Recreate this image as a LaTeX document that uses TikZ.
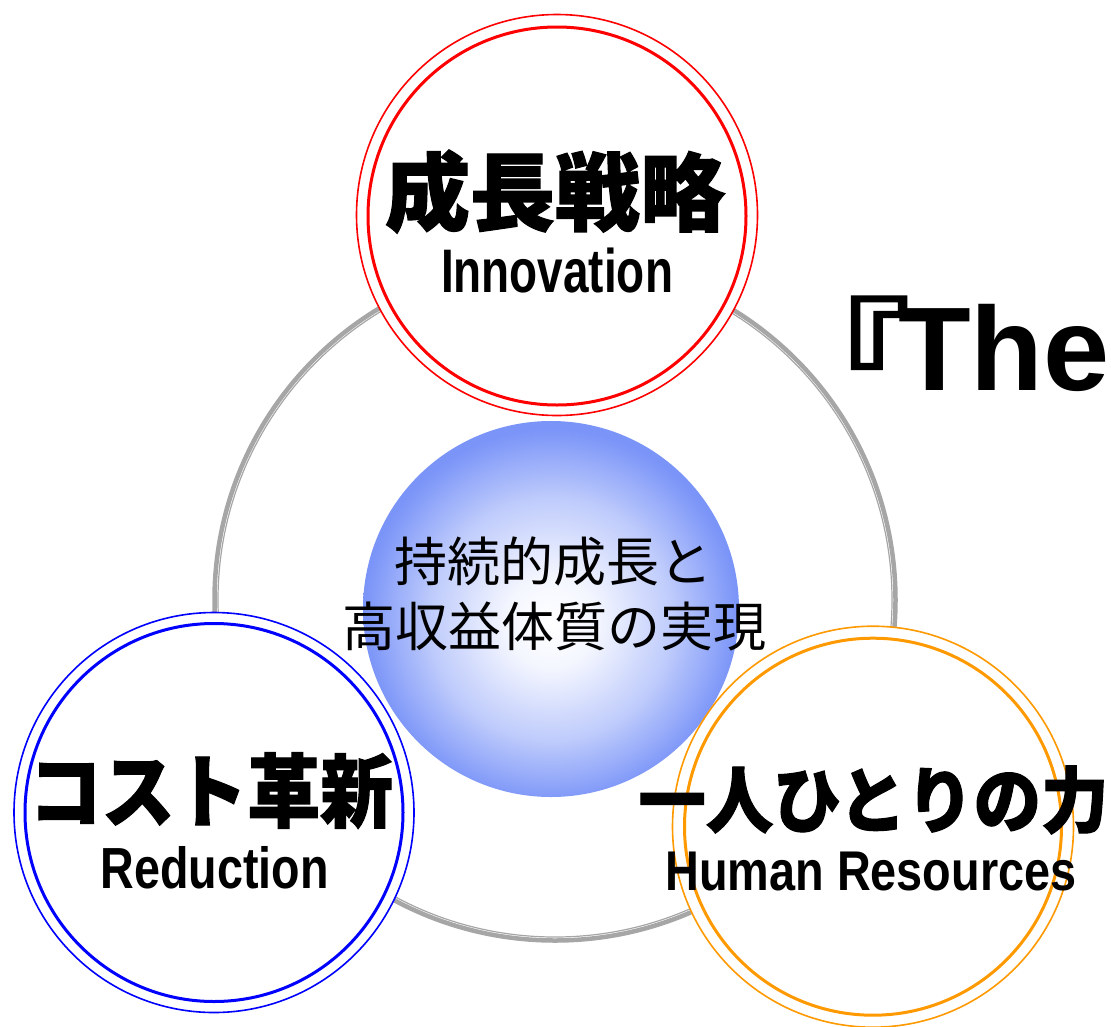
\documentclass[tikz,border=0pt]{standalone}
\usepackage{fontspec}
\usepackage{graphicx}
\newfontfamily\cjk{Noto Sans CJK JP}
\newfontfamily\cjkh{Noto Sans CJK JP}[BoldFeatures={FakeBold=1.5}]
\newfontfamily\lat{Liberation Sans}
\definecolor{ringgray}{RGB}{166,166,166}
\definecolor{sph}{RGB}{122,148,248}
\definecolor{orng}{RGB}{255,153,0}
\pgfdeclareradialshading{sphereshade}{\pgfpoint{0bp}{-2bp}}{color(0bp)=(white); color(6bp)=(white!92!sph); color(16bp)=(white!52!sph); color(25bp)=(sph); color(50bp)=(sph)}
\begin{document}
\begin{tikzpicture}[x=1pt,y=-1pt,
  jt/.style={font=\cjkh\bfseries\fontsize{#1}{#1}\selectfont, inner sep=0pt, anchor=base},
  lt/.style={font=\lat\bfseries\fontsize{#1}{#1}\selectfont, inner sep=0pt, anchor=base},
  ct/.style={font=\cjk\fontsize{#1}{#1}\selectfont, inner sep=0pt, anchor=base},
  outerring/.style={draw=#1, line width=1.6pt, fill=white},
  innerring/.style={draw=#1, line width=3pt}]
\useasboundingbox (0,0) rectangle (1111,1026);
\clip (0,0) rectangle (1111,1026);
% gray ring
\draw[ringgray, line width=4.5pt] (555,600) circle[radius=340.5pt];
\draw[ringgray, line width=1.2pt] (555,600) circle[radius=337pt];
% central sphere
\shade[shading=sphereshade] (551,609) circle[radius=188pt];
\node[ct=53] (c1) at (553,581.5) {持続的成長と};
\node[ct=53] (c2) at (554,646.5) {高収益体質の実現};
% red
\filldraw[outerring=red] (557,215) circle[radius=200.5pt];
\draw[innerring=red] (557,216) circle[radius=189pt];
\node[jt=85] (t1) at (555,224) {成長戦略};
\node[lt=61.5] (t2) at (557,292) {\resizebox{232pt}{\height}{Innovation}};
% blue
\filldraw[outerring=blue] (214,812.5) circle[radius=200pt];
\draw[innerring=blue] (214,812.5) circle[radius=189pt];
\node[jt=80] (b1) at (211,821) {\resizebox{364pt}{\height}{コスト革新}};
\node[lt=58] (b2) at (214.5,888) {\resizebox{228pt}{\height}{Reduction}};
% orange
\filldraw[outerring=orng] (873,826.7) circle[radius=200.5pt];
\draw[innerring=orng] (873,826.7) circle[radius=188.5pt];
\node[jt=72] (o1) at (873.5,827) {\resizebox{470pt}{\height}{一人ひとりの力}};
\node[lt=56] (o2) at (871,890) {\resizebox{411pt}{\height}{Human Resources}};
% title fragment
\node[lt=119, anchor=base west] (the) at (898,390) {The};
\node[jt=111, anchor=base east] (br) at (910,391) {\scalebox{1.3}[1]{『}};
\end{tikzpicture}
\end{document}
